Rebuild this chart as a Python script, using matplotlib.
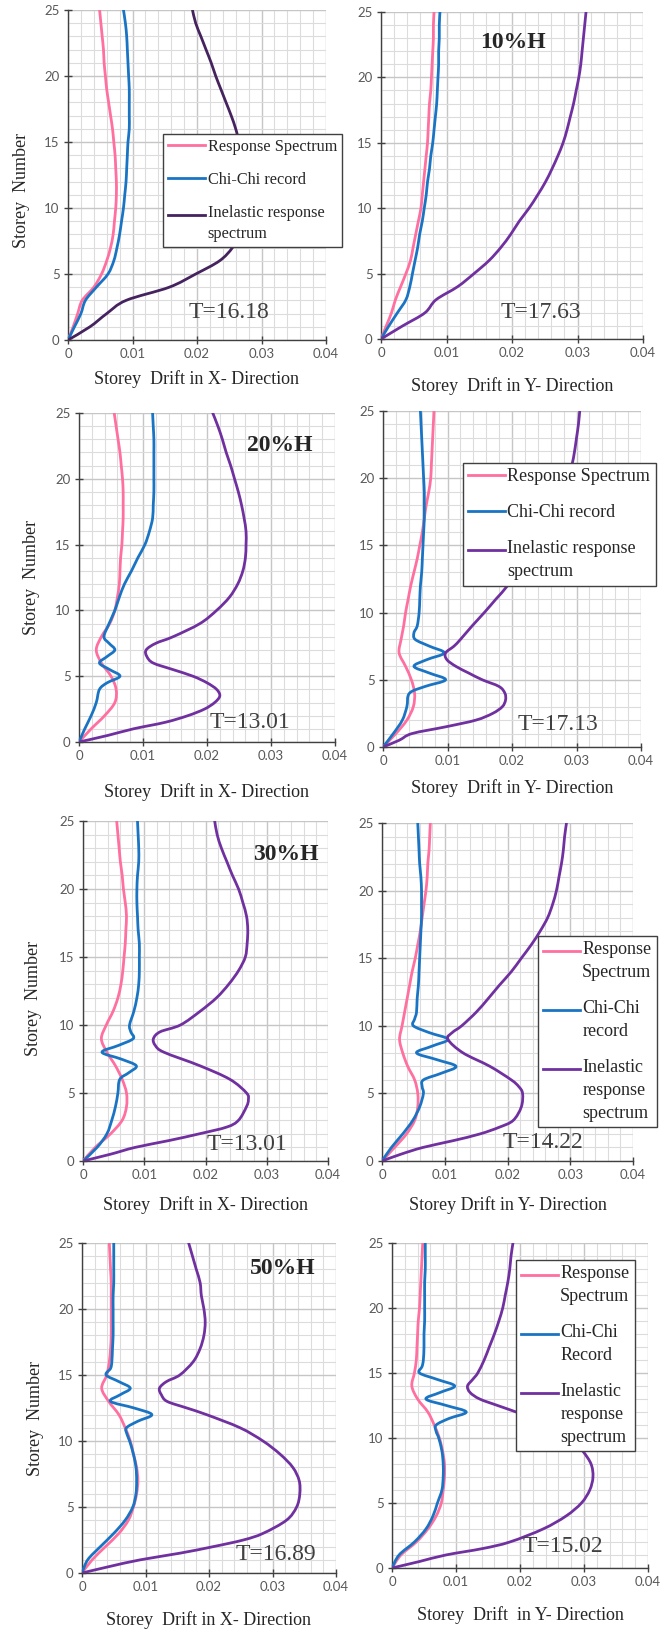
import numpy as np
import matplotlib.pyplot as plt
from matplotlib.ticker import MultipleLocator
from matplotlib.path import Path
from matplotlib.patches import PathPatch
from matplotlib.lines import Line2D
from matplotlib.legend_handler import HandlerLine2D

W, H = 672, 1629

# tick values / labels shared by every panel
x_ticks = [0, 0.01, 0.02, 0.03, 0.04]
x_tick_labels = ['0', '0.01', '0.02', '0.03', '0.04']
y_ticks = [0, 5, 10, 15, 20, 25]

st = list(range(26))

# ---- 10%H, X direction
rs_x10 = [0, 0.0008, 0.0015, 0.0022, 0.004, 0.0052, 0.006, 0.0066, 0.007, 0.0072, 0.0074, 0.0075, 0.0075,
          0.0074, 0.0073, 0.0071, 0.0069, 0.0066, 0.0063, 0.006, 0.0058, 0.0056, 0.0055, 0.0053, 0.0051, 0.0049]
cc_x10 = [0, 0.001, 0.002, 0.0027, 0.0044, 0.0062, 0.0071, 0.0076, 0.008, 0.0083, 0.0086, 0.0088, 0.009,
          0.0091, 0.0092, 0.0093, 0.0095, 0.0095, 0.0095, 0.0095, 0.0094, 0.0093, 0.0092, 0.0091, 0.0089, 0.0086]
ir_x10 = [0, 0.0034, 0.006, 0.009, 0.0157, 0.0198, 0.0235, 0.0255, 0.0265, 0.0269, 0.027, 0.027, 0.027,
          0.0269, 0.0267, 0.0265, 0.026, 0.0253, 0.0245, 0.0237, 0.0229, 0.0222, 0.0214, 0.0206, 0.0198, 0.0193]

# ---- 10%H, Y direction
rs_y10 = [0, 0.0008, 0.0016, 0.0022, 0.003, 0.0038, 0.0045, 0.0049, 0.0053, 0.0057, 0.0061, 0.0063, 0.0065,
          0.0067, 0.0069, 0.0071, 0.0072, 0.0073, 0.0074, 0.0076, 0.0077, 0.0078, 0.0079, 0.008, 0.008, 0.0081]
cc_y10 = [0, 0.0012, 0.0025, 0.0038, 0.0044, 0.0048, 0.0052, 0.0056, 0.0059, 0.0063, 0.0066, 0.0069, 0.0071,
          0.0074, 0.0076, 0.0079, 0.0081, 0.0083, 0.0085, 0.0086, 0.0087, 0.0088, 0.0088, 0.0089, 0.0089, 0.009]
ir_y10 = [0, 0.0033, 0.0067, 0.0084, 0.0117, 0.0142, 0.0165, 0.0183, 0.0198, 0.0211, 0.0226, 0.0239, 0.0251,
          0.0261, 0.027, 0.0278, 0.0284, 0.0289, 0.0294, 0.0298, 0.0302, 0.0305, 0.0307, 0.0309, 0.0311, 0.0313]

# ---- 20%H, X direction
rs_x20 = [0, 0.0019, 0.004, 0.0056, 0.0058, 0.005, 0.0035, 0.0027, 0.0035, 0.0048, 0.0056, 0.006, 0.0063,
          0.0064, 0.0065, 0.0067, 0.0068, 0.0069, 0.0069, 0.0069, 0.0068, 0.0066, 0.0064, 0.0061, 0.0058, 0.0055]
cc_x20_st = [0, 1, 2, 3, 4, 4.5, 5, 5.5, 6, 6.5, 7, 7.5] + list(range(8, 26))
cc_x20 = [0, 0.0009, 0.0019, 0.0027, 0.0032, 0.0044, 0.0064, 0.0048, 0.0032, 0.0044, 0.0056, 0.0047,
          0.0039, 0.0047, 0.0056, 0.0063, 0.0071, 0.0082, 0.0092, 0.0103, 0.011, 0.0115, 0.0116, 0.0117,
          0.0117, 0.0117, 0.0117, 0.0117, 0.0116, 0.0115]
ir_x20_st = [0, 0.5, 1, 1.5, 2, 2.5, 3, 3.5, 4, 4.5, 5, 5.5, 6, 6.5, 7, 7.5] + list(range(8, 26))
ir_x20 = [0, 0.0045, 0.0085, 0.0135, 0.017, 0.0196, 0.0212, 0.022, 0.0215, 0.02, 0.0178, 0.0147, 0.0116,
          0.0106, 0.0105, 0.012, 0.0147, 0.0189, 0.0215, 0.0235, 0.0248, 0.0256, 0.026, 0.0261, 0.0261,
          0.0258, 0.0254, 0.0249, 0.0243, 0.0237, 0.023, 0.0224, 0.0217, 0.0209]

# ---- 20%H, Y direction
rs_y20 = [0, 0.002, 0.0037, 0.0047, 0.0049, 0.0044, 0.0035, 0.0025, 0.0028, 0.0032, 0.0035, 0.0039, 0.0043,
          0.0048, 0.0053, 0.0057, 0.0061, 0.0064, 0.0067, 0.0071, 0.0074, 0.0075, 0.0076, 0.0077, 0.0078, 0.0079]
cc_y20_st = [0, 1, 2, 3, 4, 4.5, 5, 5.5, 6, 6.5, 7, 7.5, 8, 8.5] + list(range(9, 26))
cc_y20 = [0, 0.0016, 0.003, 0.0037, 0.0041, 0.0065, 0.0097, 0.0072, 0.0048, 0.0068, 0.0095, 0.0072, 0.005,
          0.0048, 0.0053, 0.0056, 0.0057, 0.0058, 0.006, 0.0061, 0.0062, 0.0063, 0.0064, 0.0064, 0.0064,
          0.0063, 0.0062, 0.0061, 0.006, 0.0059, 0.0058]
ir_y20_st = [0, 0.5, 1, 1.5, 2, 2.5, 3, 3.5, 4, 4.5, 5, 5.5, 6, 6.5, 7, 7.5] + list(range(8, 26))
ir_y20 = [0, 0.0025, 0.0045, 0.0097, 0.0144, 0.017, 0.0185, 0.019, 0.0189, 0.018, 0.0154, 0.0133, 0.0113,
          0.0099, 0.0097, 0.011, 0.012, 0.0138, 0.0157, 0.0175, 0.0193, 0.0205, 0.0218, 0.023, 0.0243,
          0.0256, 0.0268, 0.0278, 0.0287, 0.0293, 0.0297, 0.03, 0.0303, 0.0305]

# ---- 30%H, X direction
rs_x30 = [0, 0.002, 0.0045, 0.0064, 0.0071, 0.0071, 0.0064, 0.0053, 0.0039, 0.003, 0.0038, 0.0049, 0.0057,
          0.0062, 0.0065, 0.0067, 0.0069, 0.007, 0.0071, 0.0069, 0.0066, 0.0064, 0.0061, 0.0059, 0.0057, 0.0055]
cc_x30_st = [0, 1, 2, 3, 4, 5, 6, 6.5, 7, 7.5, 8, 8.5, 9, 9.5] + list(range(10, 26))
cc_x30 = [0, 0.0023, 0.0039, 0.0047, 0.0053, 0.0057, 0.006, 0.0075, 0.0087, 0.0062, 0.0031, 0.0058,
          0.0082, 0.0078, 0.0076, 0.0083, 0.0088, 0.0091, 0.0092, 0.0092, 0.0092, 0.009, 0.0089, 0.0088,
          0.0088, 0.0089, 0.0091, 0.0091, 0.009, 0.0089]
ir_x30_st = [0, 0.5, 1, 1.5, 2, 2.5, 3, 4, 4.5, 5, 6, 7, 8, 8.5, 9, 9.5] + list(range(10, 26))
ir_x30 = [0, 0.0045, 0.0085, 0.014, 0.019, 0.0235, 0.0254, 0.0267, 0.027, 0.0267, 0.024, 0.0191, 0.0132,
          0.0118, 0.0115, 0.0126, 0.0159, 0.0191, 0.0218, 0.0238, 0.0254, 0.0265, 0.0268, 0.0269, 0.0267,
          0.0261, 0.0254, 0.0244, 0.0235, 0.0226, 0.0219, 0.0215]

# ---- 30%H, Y direction
rs_y30 = [0, 0.002, 0.0039, 0.0052, 0.0057, 0.0057, 0.0052, 0.0041, 0.0033, 0.0028, 0.0032, 0.0036, 0.004,
          0.0044, 0.0048, 0.0053, 0.0057, 0.0061, 0.0064, 0.0067, 0.007, 0.0072, 0.0073, 0.0075, 0.0076, 0.0077]
cc_y30_st = [0, 1, 2, 3, 4, 5, 5.5, 6, 6.5, 7, 7.5, 8, 8.5, 9, 9.5, 10, 10.5] + list(range(11, 26))
cc_y30 = [0, 0.0015, 0.0033, 0.0049, 0.006, 0.0066, 0.0064, 0.0066, 0.0095, 0.0118, 0.0087, 0.0055, 0.008,
          0.0105, 0.0075, 0.005, 0.0052, 0.0055, 0.0056, 0.0058, 0.0059, 0.006, 0.0061, 0.0062, 0.0063,
          0.0063, 0.0063, 0.0062, 0.006, 0.0059, 0.0058, 0.0057]
ir_y30_st = [0, 0.5, 1, 1.5, 2, 2.5, 3, 4, 5, 5.5, 6, 7, 8, 9, 9.5] + list(range(10, 26))
ir_y30 = [0, 0.003, 0.0065, 0.0113, 0.0156, 0.0187, 0.0209, 0.0222, 0.0224, 0.0218, 0.0206, 0.0172, 0.0129,
          0.0105, 0.0112, 0.0127, 0.015, 0.0169, 0.0187, 0.0206, 0.0222, 0.0238, 0.0252, 0.0264, 0.0272,
          0.0278, 0.0282, 0.0286, 0.0289, 0.0291, 0.0294]

# ---- 50%H, X direction
rs_x50 = [0, 0.0016, 0.0037, 0.0058, 0.0073, 0.0081, 0.0086, 0.0088, 0.0086, 0.0081, 0.0076, 0.0068, 0.0058,
          0.0042, 0.0031, 0.0039, 0.0043, 0.0045, 0.0046, 0.0046, 0.0046, 0.0046, 0.0046, 0.0045, 0.0044, 0.0043]
cc_50_st = list(range(0, 11)) + [10.5, 11, 11.5, 12, 12.5, 13, 13.5, 14, 14.5, 15, 15.5] + list(range(16, 26))
cc_x50 = [0, 0.0009, 0.0029, 0.005, 0.0068, 0.008, 0.0085, 0.0086, 0.0085, 0.0081, 0.0075,
          0.0071, 0.007, 0.0088, 0.011, 0.0082, 0.0045, 0.006, 0.0076, 0.0058, 0.0038, 0.0045,
          0.0047, 0.0048, 0.0049, 0.0049, 0.0049, 0.0049, 0.005, 0.005, 0.005, 0.005]
ir_x50_st = [0, 0.5, 1, 1.5, 2, 2.5, 3, 4, 5, 6, 7, 8, 9, 10, 11, 12, 12.5, 13, 13.5, 14, 14.5, 15] + list(range(16, 26))
ir_x50 = [0, 0.0044, 0.0092, 0.0154, 0.0207, 0.0254, 0.0285, 0.0322, 0.0338, 0.0343, 0.0342, 0.0332, 0.0312,
          0.0285, 0.0249, 0.0196, 0.0165, 0.0134, 0.0125, 0.0122, 0.0133, 0.0154, 0.0175, 0.0186, 0.0192,
          0.0194, 0.0192, 0.0188, 0.0186, 0.018, 0.0174, 0.0168]

# ---- 50%H, Y direction
rs_y50 = [0, 0.0014, 0.0038, 0.0056, 0.0069, 0.0077, 0.008, 0.0082, 0.0082, 0.0079, 0.0074, 0.0066, 0.0056,
          0.004, 0.0031, 0.0035, 0.0038, 0.0039, 0.004, 0.0041, 0.0043, 0.0044, 0.0045, 0.0046, 0.0047, 0.0048]
cc_y50 = [0, 0.0011, 0.0035, 0.0053, 0.0064, 0.0071, 0.0078, 0.008, 0.008, 0.0078, 0.0073,
          0.0069, 0.0069, 0.0089, 0.0116, 0.0085, 0.0053, 0.0075, 0.0098, 0.0071, 0.0043, 0.0047,
          0.0049, 0.005, 0.005, 0.0051, 0.0051, 0.0051, 0.0051, 0.0052, 0.0052, 0.0052]
ir_y50_st = [0, 0.5, 1, 1.5, 2, 3, 4, 5, 6, 7, 8, 9, 10, 11, 12, 12.5, 13, 13.5, 14, 14.5, 15] + list(range(16, 26))
ir_y50 = [0, 0.0043, 0.0084, 0.0142, 0.0184, 0.0236, 0.0272, 0.0296, 0.0309, 0.0314, 0.0311, 0.0298, 0.028,
          0.025, 0.0194, 0.0165, 0.0137, 0.0122, 0.0118, 0.0126, 0.0134, 0.0144, 0.0152, 0.016, 0.0167,
          0.0173, 0.0177, 0.0181, 0.0184, 0.0186, 0.0189]

pink = '#ff6f9f'
blue = '#1a74c4'
purple = '#7030a0'
dark_purple = '#45235f'
serif = 'Liberation Serif'

plt.rcParams['font.family'] = 'Lato'

fig = plt.figure(figsize=(W / 100, H / 100), dpi=100)


def px_box(x0, y0, x1, y1):
    # pixel box (top-left origin) -> figure fraction rect
    return [x0 / W, 1 - y1 / H, (x1 - x0) / W, (y1 - y0) / H]


def fpos(x, y):
    return x / W, 1 - y / H


def smooth_path(x, y):
    # smoothed line through the points (cubic Bezier segments, Catmull-Rom tangents)
    pts = np.column_stack([x, y]).astype(float)
    ext = np.vstack([pts[0], pts, pts[-1]])
    verts = [pts[0]]
    codes = [Path.MOVETO]
    for i in range(len(pts) - 1):
        p0, p1, p2, p3 = ext[i], ext[i + 1], ext[i + 2], ext[i + 3]
        verts += [p1 + (p2 - p0) / 6, p2 - (p3 - p1) / 6, p2]
        codes += [Path.CURVE4] * 3
    return Path(verts, codes)


class FirstLineHandler(HandlerLine2D):
    # legend line sits level with the first line of a wrapped label
    def __init__(self, nlines, pitch, **kw):
        super().__init__(**kw)
        self.nlines = nlines
        self.pitch = pitch

    def create_artists(self, legend, orig_handle, xdescent, ydescent, width, height, fontsize, trans):
        arts = super().create_artists(legend, orig_handle, xdescent, ydescent, width, height, fontsize, trans)
        dy = (self.nlines - 1) / 2 * self.pitch * fontsize
        for a in arts:
            a.set_ydata(np.asarray(a.get_ydata()) + dy)
        return arts


panels = [
    dict(box=(68, 10, 326, 340), series=[(st, rs_x10, pink), (st, cc_x10, blue), (st, ir_x10, dark_purple)],
         xl='Storey  Drift in X- Direction', xl_y=379, yl=(22, 190), T='T=16.18', Tp=(229, 312), tag=None,
         leg=dict(pos=(163, 134), size=11.7, hl=2.3,
                  labels=['Response Spectrum', 'Chi-Chi record', 'Inelastic response\nspectrum'])),
    dict(box=(381, 12, 643, 339), series=[(st, rs_y10, pink), (st, cc_y10, blue), (st, ir_y10, purple)],
         xl='Storey  Drift in Y- Direction', xl_y=386, yl=None, T='T=17.63', Tp=(541, 312), tag=('10%H', (513, 43)),
         leg=None),
    dict(box=(79, 413, 335, 742), series=[(st, rs_x20, pink), (cc_x20_st, cc_x20, blue), (ir_x20_st, ir_x20, purple)],
         xl='Storey  Drift in X- Direction', xl_y=792, yl=(32, 577), T='T=13.01', Tp=(250, 723), tag=('20%H', (280, 445)),
         leg=None),
    dict(box=(383, 411, 641, 747), series=[(st, rs_y20, pink), (cc_y20_st, cc_y20, blue), (ir_y20_st, ir_y20, purple)],
         xl='Storey  Drift in Y- Direction', xl_y=788, yl=None, T='T=17.13', Tp=(558, 725), tag=None,
         leg=dict(pos=(463, 463), size=13, hl=2.0,
                  labels=['Response Spectrum', 'Chi-Chi record', 'Inelastic response\nspectrum'])),
    dict(box=(83, 821, 328, 1161), series=[(st, rs_x30, pink), (cc_x30_st, cc_x30, blue), (ir_x30_st, ir_x30, purple)],
         xl='Storey  Drift in X- Direction', xl_y=1205, yl=(33, 998), T='T=13.01', Tp=(247, 1145), tag=('30%H', (286, 854)),
         leg=None),
    dict(box=(382, 823, 633, 1161), series=[(st, rs_y30, pink), (cc_y30_st, cc_y30, blue), (ir_y30_st, ir_y30, purple)],
         xl='Storey Drift in Y- Direction', xl_y=1205, yl=None, T='T=14.22', Tp=(543, 1143), tag=None,
         leg=dict(pos=(538, 936), size=13, hl=2.0,
                  labels=['Response\nSpectrum', 'Chi-Chi\nrecord', 'Inelastic\nresponse\nspectrum'])),
    dict(box=(82, 1243, 336, 1573), series=[(st, rs_x50, pink), (cc_50_st, cc_x50, blue), (ir_x50_st, ir_x50, purple)],
         xl='Storey  Drift in X- Direction', xl_y=1620, yl=(35, 1418), T='T=16.89', Tp=(276, 1554), tag=('50%H', (283, 1268)),
         leg=None),
    dict(box=(392, 1243, 648, 1568), series=[(st, rs_y50, pink), (cc_50_st, cc_y50, blue), (ir_y50_st, ir_y50, purple)],
         xl='Storey  Drift  in Y- Direction', xl_y=1615, yl=None, T='T=15.02', Tp=(563, 1547), tag=None,
         leg=dict(pos=(516, 1260), size=13, hl=2.0,
                  labels=['Response\nSpectrum', 'Chi-Chi\nRecord', 'Inelastic\nresponse\nspectrum'])),
]

LINESPACING = 1.45
PITCH = 1.17  # line pitch of wrapped legend labels, in font sizes

for p in panels:
    ax = fig.add_axes(px_box(*p['box']))
    handles = []
    for ys, xs, c in p['series']:
        ax.add_patch(PathPatch(smooth_path(xs, ys), fill=False, edgecolor=c, lw=2.0,
                               capstyle='round', joinstyle='round', zorder=3))
        handles.append(Line2D([], [], color=c, lw=2.0))

    ax.set_xlim(0, 0.04)
    ax.set_ylim(0, 25)
    ax.set_xticks(x_ticks)
    ax.set_xticklabels(x_tick_labels)
    ax.set_yticks(y_ticks)
    ax.xaxis.set_minor_locator(MultipleLocator(0.002))
    ax.yaxis.set_minor_locator(MultipleLocator(1))
    ax.grid(which='major', color='#c6c6c6', lw=1.0, zorder=0)
    ax.grid(which='minor', color='#dcdcdc', lw=0.8, zorder=0)
    ax.set_axisbelow(True)
    ax.tick_params(which='major', direction='inout', length=6, width=1, color='#404040',
                   labelsize=9.5, labelcolor='#595959', pad=3)
    ax.tick_params(which='minor', length=0)
    ax.spines['top'].set_visible(False)
    ax.spines['right'].set_visible(False)
    for s in ('left', 'bottom'):
        ax.spines[s].set_color('#404040')
        ax.spines[s].set_linewidth(1.0)

    cx = (p['box'][0] + p['box'][2]) / 2
    fig.text(*fpos(cx, p['xl_y']), p['xl'], ha='center', va='center', family=serif, fontsize=13, color='#262626')
    if p['yl']:
        fig.text(*fpos(*p['yl']), 'Storey  Number', rotation=90, ha='center', va='center',
                 family=serif, fontsize=13, color='#262626')
    fig.text(*fpos(*p['Tp']), p['T'], ha='center', va='center', family=serif, fontsize=17, color='#404040')
    if p['tag']:
        fig.text(*fpos(*p['tag'][1]), p['tag'][0], ha='center', va='center', family=serif,
                 fontsize=17, fontweight='bold', color='#262626')
    if p['leg']:
        lg = p['leg']
        hmap = {h: FirstLineHandler(lab.count('\n') + 1, PITCH) for h, lab in zip(handles, lg['labels'])}
        leg = ax.legend(handles, lg['labels'], loc='upper left', bbox_to_anchor=fpos(*lg['pos']),
                        bbox_transform=fig.transFigure, borderaxespad=0, fancybox=False, framealpha=1,
                        edgecolor='#404040', handlelength=lg['hl'], handletextpad=0.15, borderpad=0.3,
                        labelspacing=1.05, handler_map=hmap, prop={'family': serif, 'size': lg['size']})
        leg.get_frame().set_linewidth(1.0)
        for t in leg.get_texts():
            t.set_color('#262626')
            t.set_linespacing(LINESPACING)
        leg.set_zorder(5)

fig.savefig('out.png', dpi=100)
